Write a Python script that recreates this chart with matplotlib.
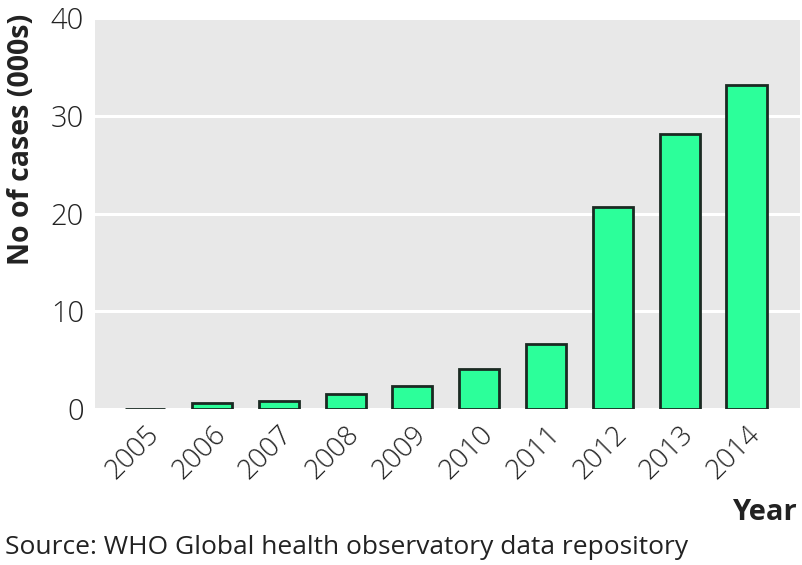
import matplotlib
matplotlib.use('Agg')
import matplotlib.pyplot as plt

# Data
years = ['2005', '2006', '2007', '2008', '2009', '2010', '2011', '2012', '2013', '2014']
cases = [0.05, 0.6, 0.8, 1.5, 2.4, 4.1, 6.6, 20.7, 28.1, 33.1]
yticks = [0, 10, 20, 30, 40]

plt.rcParams['font.family'] = ['Open Sans', 'DejaVu Sans']

fig = plt.figure(figsize=(8.02, 5.65), dpi=100)
ax = fig.add_axes([95 / 802, 1 - 409 / 565, 705 / 802, 391 / 565])
ax.set_facecolor('#e8e8e8')

x = range(len(years))
ax.bar(x, cases, width=0.6, color='#2cff9a', edgecolor='#1a2a22', linewidth=2, zorder=3)

ax.set_ylim(0, 40)
ax.set_xlim(-0.75, 9.8)
ax.set_yticks(yticks)
ax.set_yticklabels([str(t) for t in yticks], fontsize=21, fontweight='light', color='#222222')
ax.set_xticks(list(x))
ax.set_xticklabels(years, rotation=45, ha='right', rotation_mode='anchor',
                   fontsize=20, fontweight='light', color='#222222')
ax.tick_params(length=0, pad=8)
ax.grid(axis='y', color='white', linewidth=2.2, zorder=1)
for s in ax.spines.values():
    s.set_visible(False)

# y label sits near the top, not centred on the axis
fig.text(22 / 802, 1 - 14 / 565, 'No of cases (000s)', rotation=90, fontsize=20.5,
         fontweight='bold', color='#222222', ha='center', va='top')

fig.text(797 / 802, 1 - 512 / 565, 'Year', fontsize=21, fontweight='bold', color='#222222',
         ha='right', va='center')
fig.text(5 / 802, 1 - 547 / 565, 'Source: WHO Global health observatory data repository',
         fontsize=19, color='#222222', ha='left', va='center')

fig.savefig('out.png', dpi=100)
